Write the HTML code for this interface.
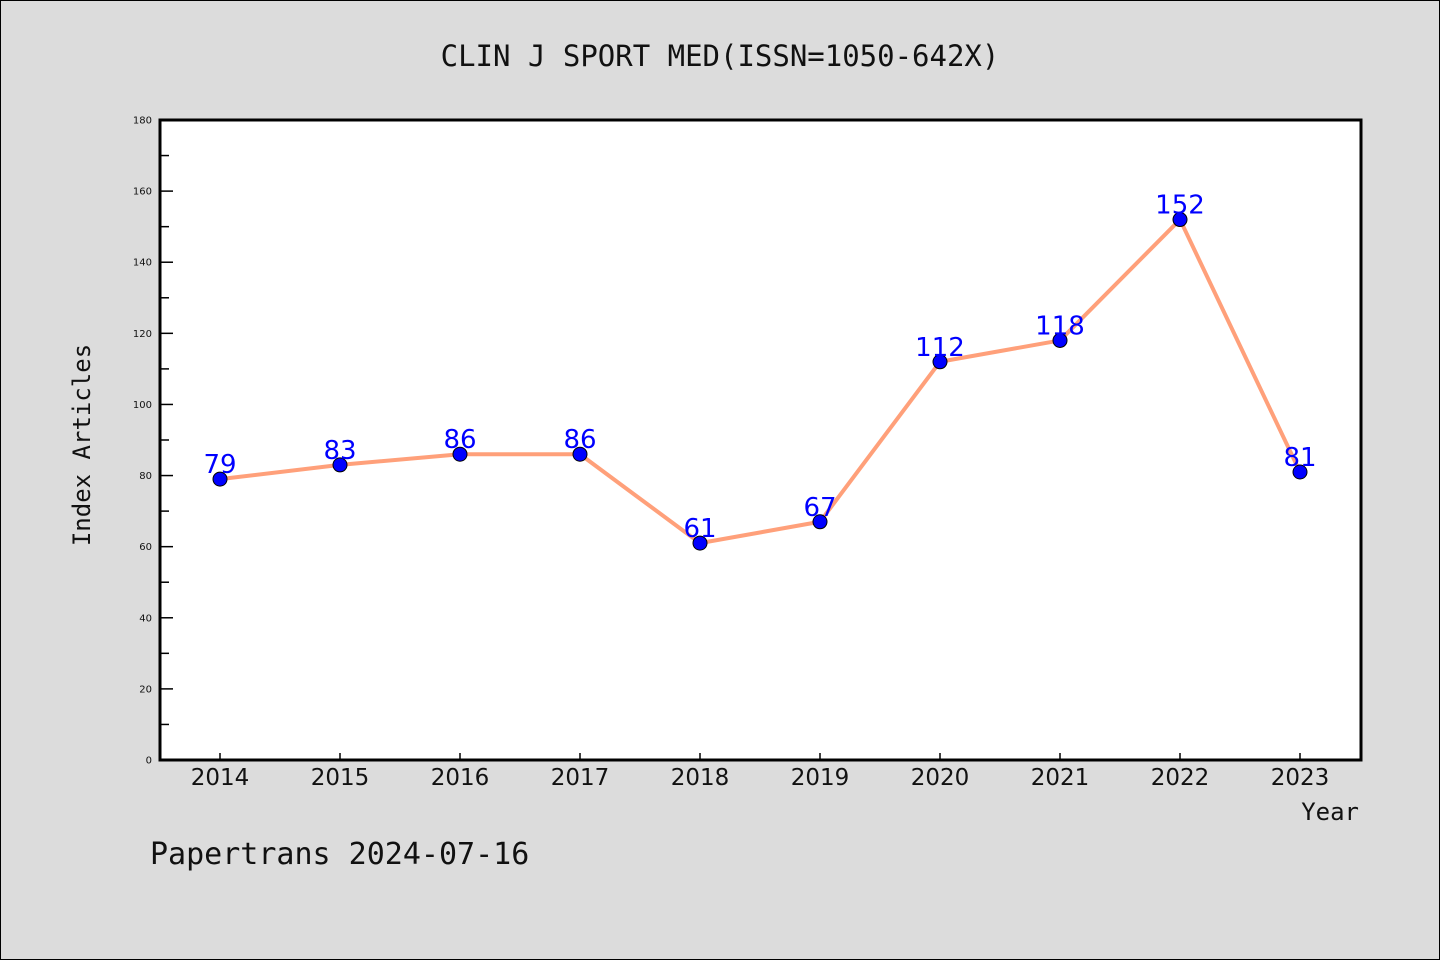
<!DOCTYPE html>
<html><head><meta charset="utf-8"><style>
html,body{margin:0;padding:0;background:#dcdcdc;}
svg{display:block;}
</style></head><body>
<svg width="1440" height="960" xmlns="http://www.w3.org/2000/svg">
<rect x="0.5" y="0.5" width="1439" height="959" fill="#dcdcdc" stroke="#000" stroke-width="1"/>
<text x="720" y="66" text-anchor="middle" font-family="DejaVu Sans Mono, monospace" font-size="29" fill="#111">CLIN J SPORT MED(ISSN=1050-642X)</text>
<rect x="160" y="120" width="1201" height="640" fill="#fff"/>
<g id="axes"></g>
<g id="series"></g>
<rect x="160" y="120" width="1201" height="640" fill="none" stroke="#000" stroke-width="3"/>
<text x="90" y="445" text-anchor="middle" transform="rotate(-90 90 445)" font-family="DejaVu Sans Mono, monospace" font-size="24" fill="#111">Index Articles</text>
<text x="1359" y="820" text-anchor="end" font-family="DejaVu Sans Mono, monospace" font-size="24" fill="#111">Year</text>
<text x="150" y="864" font-family="DejaVu Sans Mono, monospace" font-size="30" fill="#111">Papertrans 2024-07-16</text>
</svg>
<script>
const years = ["2014","2015","2016","2017","2018","2019","2020","2021","2022","2023"];
const articles = [79,83,86,86,61,67,112,118,152,81];
const yTicks = [0,20,40,60,80,100,120,140,160,180];
const NS="http://www.w3.org/2000/svg";
const x0=160,x1=1361,y0=760,y1=120,yMax=180;
function xs(i){return 220+i*120;}
function ys(v){return y0-(v/yMax)*(y0-y1);}
function mk(t,a,p){const e=document.createElementNS(NS,t);for(const k in a)e.setAttribute(k,a[k]);p.appendChild(e);return e;}
const ax=document.getElementById('axes'), se=document.getElementById('series');
for(let v=10;v<yMax;v+=20){
  const l=mk('line',{x1:x0,x2:x0+9,y1:ys(v),y2:ys(v),stroke:'#000','stroke-width':1.5},ax);
  
  
}
yTicks.forEach(v=>{
  if(v>0&&v<yMax){const l=mk('line',{x1:x0,x2:x0+13,y1:ys(v),y2:ys(v),stroke:'#000','stroke-width':1.5},ax);
  
  }
  const t=mk('text',{x:x0-8,y:ys(v)+3.5,'text-anchor':'end','font-family':'DejaVu Sans, sans-serif','font-size':10,fill:'#111'},ax);
  t.textContent=v;
  
  
});
years.forEach((y,i)=>{
  const l=mk('line',{x1:xs(i),x2:xs(i),y1:y0,y2:y0-7,stroke:'#000','stroke-width':1.5},ax);
  
  
  const t=mk('text',{x:xs(i),y:785,'text-anchor':'middle','font-family':'DejaVu Sans, sans-serif','font-size':23,fill:'#111'},ax);
  t.textContent=y;
  
  
});
const pl=mk('polyline',{points:articles.map((v,i)=>xs(i)+','+ys(v)).join(' '),fill:'none',stroke:'#ffa07a','stroke-width':4,'stroke-linejoin':'round'},se);


articles.forEach((v,i)=>{
  const c=mk('circle',{cx:xs(i),cy:ys(v),r:7,fill:'#0000ff',stroke:'#000','stroke-width':1},se);
  
  
  const t=mk('text',{x:xs(i),y:ys(v)-6,'text-anchor':'middle','font-family':'DejaVu Sans, sans-serif','font-size':26,fill:'#0000ff'},se);
  t.textContent=v;
  
  
});
</script>
</body></html>
